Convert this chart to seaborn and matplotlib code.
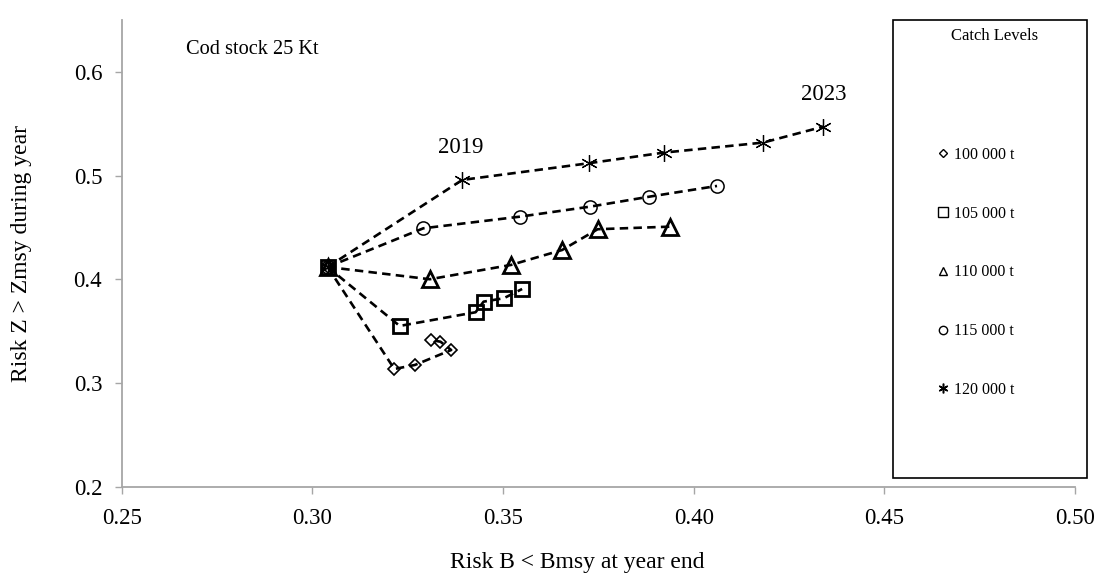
import matplotlib
matplotlib.use("Agg")
import matplotlib.pyplot as plt
from matplotlib.lines import Line2D
from matplotlib.patches import Rectangle
import seaborn as sns
import pandas as pd

# Projection years (first point is the common starting state)
years = [2018, 2019, 2020, 2021, 2022, 2023]

catch_levels = ["100 000 t", "105 000 t", "110 000 t", "115 000 t", "120 000 t"]

# Risk B < Bmsy at year end
risk_b_100 = [0.304, 0.3215, 0.3269, 0.3364, 0.3336, 0.3310]
risk_b_105 = [0.304, 0.3229, 0.3428, 0.3449, 0.3502, 0.3550]
risk_b_110 = [0.304, 0.3308, 0.3521, 0.3655, 0.3748, 0.3939]
risk_b_115 = [0.304, 0.3291, 0.3544, 0.3729, 0.3884, 0.4061]
risk_b_120 = [0.304, 0.3393, 0.3725, 0.3921, 0.4182, 0.4340]

# Risk Z > Zmsy during year
risk_z_100 = [0.412, 0.3137, 0.3176, 0.3320, 0.3400, 0.3417]
risk_z_105 = [0.412, 0.3552, 0.3684, 0.3786, 0.3819, 0.3908]
risk_z_110 = [0.412, 0.4002, 0.4140, 0.4284, 0.4484, 0.4509]
risk_z_115 = [0.412, 0.4493, 0.4605, 0.4702, 0.4798, 0.4901]
risk_z_120 = [0.412, 0.4959, 0.5120, 0.5222, 0.5319, 0.5473]

x_ticks = [0.25, 0.30, 0.35, 0.40, 0.45, 0.50]
y_ticks = [0.2, 0.3, 0.4, 0.5, 0.6]

risk_b = [risk_b_100, risk_b_105, risk_b_110, risk_b_115, risk_b_120]
risk_z = [risk_z_100, risk_z_105, risk_z_110, risk_z_115, risk_z_120]

frames = []
for level, bx, zy in zip(catch_levels, risk_b, risk_z):
    frames.append(pd.DataFrame({"year": years, "risk_b": bx, "risk_z": zy, "catch": level}))
df = pd.concat(frames, ignore_index=True)

sns.set_theme(style="white")
plt.rcParams["font.family"] = ["Liberation Serif", "DejaVu Serif"]
plt.rcParams["text.color"] = "black"
plt.rcParams["axes.labelcolor"] = "black"

# marker, plot size, edge width, legend size, legend edge width
styles = {
    "100 000 t": ("D", 6.0, 1.2, 4.5, 1.0),
    "105 000 t": ("s", 10.5, 2.0, 7.0, 1.0),
    "110 000 t": ("^", 11.0, 2.0, 6.0, 1.0),
    "115 000 t": ("o", 9.5, 1.1, 6.0, 1.0),
    "120 000 t": ((6, 2, 0), 12.0, 0.9, 7.0, 1.1),
}

fig = plt.figure(figsize=(11.01, 5.77), dpi=100)
ax = fig.add_axes([0.1105, 0.156, 0.866, 0.8093])

for level in catch_levels:
    m, ms, mew, _, _ = styles[level]
    sub = df[df["catch"] == level]
    sns.lineplot(data=sub, x="risk_b", y="risk_z", sort=False, estimator=None,
                 ax=ax, color="black", linewidth=1.9, linestyle=(0, (3.2, 2.0)),
                 marker=m, markersize=ms, markeredgewidth=mew,
                 markerfacecolor="none", markeredgecolor="black", legend=False)

ax.set_xlim(0.25, 0.50)
ax.set_ylim(0.2, 0.65)
ax.set_xticks(x_ticks)
ax.set_xticklabels([f"{v:.2f}" for v in x_ticks])
ax.set_yticks(y_ticks)
ax.set_yticklabels([f"{v:.1f}" for v in y_ticks])

spine_col = "#a6a6a6"
for side in ["top", "right"]:
    ax.spines[side].set_visible(False)
for side in ["left", "bottom"]:
    ax.spines[side].set_color(spine_col)
    ax.spines[side].set_linewidth(1.3)
ax.tick_params(axis="both", direction="out", length=5, width=1.0, color=spine_col,
               labelsize=16.5, labelcolor="black", bottom=True, left=True)
ax.tick_params(axis="x", pad=10)
ax.tick_params(axis="y", pad=9)

ax.set_xlabel("Risk B < Bmsy at year end", fontsize=17)
ax.set_ylabel("Risk Z > Zmsy during year", fontsize=17)
ax.xaxis.set_label_coords(0.478, -0.14)
ax.yaxis.set_label_coords(-0.094, 0.5)

ax.text(0.2668, 0.622, "Cod stock 25 Kt", fontsize=14.7, ha="left", va="center")
ax.text(0.3388, 0.5267, "2019", fontsize=16.5, ha="center", va="center")
ax.text(0.434, 0.5778, "2023", fontsize=16.5, ha="center", va="center")

# Legend panel
fig.patches.append(Rectangle((0.811, 0.1716), 0.176, 0.7937, transform=fig.transFigure,
                             fill=False, edgecolor="black", linewidth=1.2, zorder=5))
fig.text(0.9035, 0.9376, "Catch Levels", fontsize=12, ha="center", va="center")

handles = []
for level in catch_levels:
    m, _, _, lms, lmew = styles[level]
    handles.append(Line2D([], [], linestyle="none", marker=m, markersize=lms,
                          markeredgewidth=lmew, markerfacecolor="none",
                          markeredgecolor="black", color="black", label=level))
fig.legend(handles=handles, loc="center left", bbox_to_anchor=(0.845, 0.528),
           frameon=False, fontsize=11.5, labelspacing=2.68, handlelength=0.6,
           handletextpad=0.35, borderpad=0)

fig.savefig("out.png", dpi=100)
